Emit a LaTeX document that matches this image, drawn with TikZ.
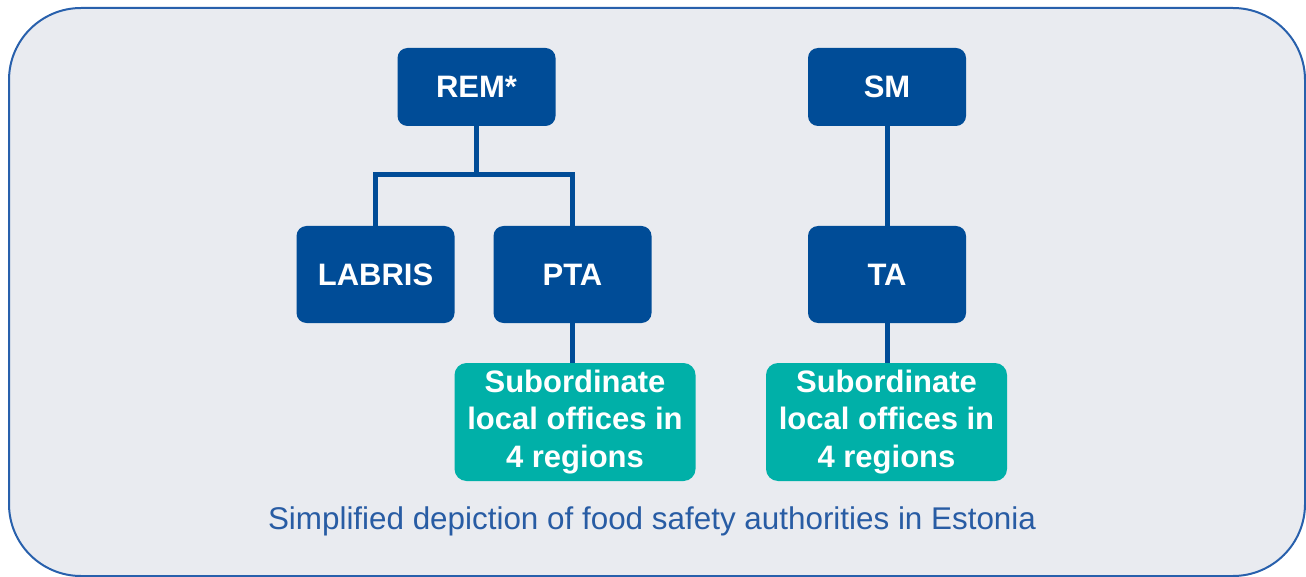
\documentclass[tikz,border=0pt]{standalone}
\usepackage{fontspec}
\setmainfont{Liberation Sans}
\definecolor{bgfill}{RGB}{233,235,240}
\definecolor{frame}{RGB}{40,96,172}
\definecolor{navy}{RGB}{0,76,151}
\definecolor{teal}{RGB}{0,176,168}
\definecolor{captc}{RGB}{40,92,164}
\begin{document}
\begin{tikzpicture}[x=1pt,y=-1pt,
  org/.style={draw=none,fill=navy,rounded corners=10pt,text=white,font=\fontsize{31}{36}\selectfont\bfseries,minimum width=158pt,minimum height=78pt,inner sep=0pt,align=center},
  sub/.style={draw=none,fill=teal,rounded corners=12pt,text=white,font=\fontsize{31}{37.5}\selectfont\bfseries,minimum width=241pt,minimum height=118pt,inner sep=0pt,align=center},
  link/.style={draw=navy,line width=5pt}]
\useasboundingbox (0,0) rectangle (1306,577);
\draw[frame,line width=2pt,fill=bgfill,rounded corners=72pt] (9,8) rectangle (1305,576);
\node[org] (rem) at (476.5,87) {REM*};
\node[org,minimum height=97pt] (labris) at (375.5,274.5) {LABRIS};
\node[org,minimum height=97pt] (pta) at (572.5,274.5) {PTA};
\node[org] (sm) at (887,87) {SM};
\node[org,minimum height=97pt] (ta) at (887,274.5) {TA};
\node[sub] (subl) at (575,422) {Subordinate\\local offices in\\4 regions};
\node[sub] (subr) at (886.5,422) {Subordinate\\local offices in\\4 regions};
\coordinate (j) at (476.5,175);
\draw[link] (rem.south) -- (j);
\draw[link] (labris.north) |- (j) -| (pta.north);
\draw[link] (pta.south) -- (pta.south |- subl.north);
\draw[link] (sm.south) -- (ta.north);
\draw[link] (ta.south) -- (ta.south |- subr.north);
\node[text=captc,font=\fontsize{31.4}{36}\selectfont,inner sep=0pt] (cap) at (652,521) {Simplified depiction of food safety authorities in Estonia};
\end{tikzpicture}
\end{document}
